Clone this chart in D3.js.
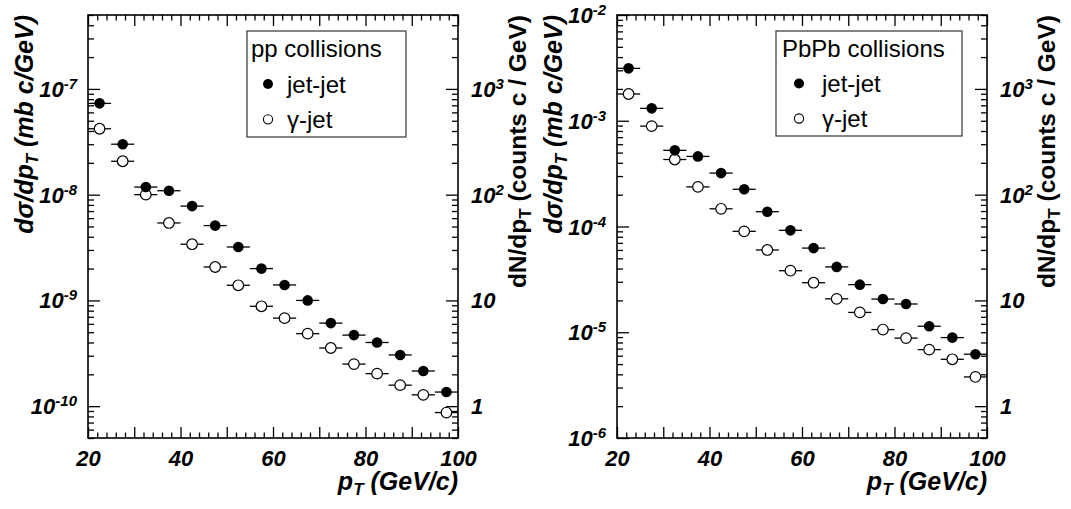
<!DOCTYPE html>
<html>
<head>
<meta charset="utf-8">
<script src="https://cdn.jsdelivr.net/npm/d3@7"></script>
<style>
  body { margin: 0; background: #fff; }
  svg { display: block; }
  text { font-family: "Liberation Sans", Arial, Helvetica, sans-serif; fill: #000; }
</style>
</head>
<body>
<svg id="chart" width="1071" height="509"></svg>
<script>
// Bin centres (GeV/c), 5 GeV/c wide bins
const pT = [22.5, 27.5, 32.5, 37.5, 42.5, 47.5, 52.5, 57.5, 62.5, 67.5, 72.5, 77.5, 82.5, 87.5, 92.5, 97.5];
const binHalfWidth = 2.5;

// pp: d(sigma)/dpT in mb c/GeV
const ppJetJet = [7.3e-8, 3.0e-8, 1.18e-8, 1.09e-8, 7.8e-9, 5.1e-9, 3.2e-9, 2.0e-9, 1.4e-9, 1.0e-9,
                  6.1e-10, 4.7e-10, 4.0e-10, 3.05e-10, 2.15e-10, 1.36e-10];
const ppGammaJet = [4.2e-8, 2.07e-8, 1.0e-8, 5.4e-9, 3.4e-9, 2.07e-9, 1.39e-9, 8.8e-10, 6.8e-10, 4.85e-10,
                    3.55e-10, 2.5e-10, 2.03e-10, 1.58e-10, 1.28e-10, 8.7e-11];

// PbPb: d(sigma)/dpT in mb c/GeV
const pbpbJetJet = [3.13e-3, 1.31e-3, 5.25e-4, 4.6e-4, 3.2e-4, 2.25e-4, 1.38e-4, 9.2e-5, 6.25e-5, 4.15e-5,
                    2.82e-5, 2.06e-5, 1.85e-5, 1.14e-5, 8.9e-6, 6.2e-6];
const pbpbGammaJet = [1.79e-3, 8.9e-4, 4.3e-4, 2.37e-4, 1.47e-4, 9.0e-5, 6.0e-5, 3.82e-5, 2.94e-5, 2.07e-5,
                      1.54e-5, 1.06e-5, 8.8e-6, 6.85e-6, 5.55e-6, 3.78e-6];

// Axis ranges and labels
const xDomain = [20, 100];
const xTickLabels = [20, 40, 60, 80, 100];
const ppSigmaDomain = [5e-11, 5e-7];
const ppSigmaDecades = [-7, -8, -9, -10];
const pbpbSigmaDomain = [1e-6, 1e-2];
const pbpbSigmaDecades = [-2, -3, -4, -5, -6];
const countsDomain = [0.5, 5000];
const countsDecades = [0, 1, 2, 3];

const seriesNames = ["jet-jet", "γ-jet"];
const legendHeaders = ["pp collisions", "PbPb collisions"];

// ---- layout ----
const svg = d3.select("#chart");
const frameTop = 15, frameBottom = 438, frameWidth = 370;
const tickFont = 22, titleFont = 25;

const panels = [
  { left: 88, sigmaDomain: ppSigmaDomain, decades: ppSigmaDecades,
    jj: ppJetJet, gj: ppGammaJet, header: legendHeaders[0],
    legend: { x0: 247, x1: 406, y0: 31, y1: 137, textDx: 4, markDx: 21, labelDx: 40 } },
  { left: 617, sigmaDomain: pbpbSigmaDomain, decades: pbpbSigmaDecades,
    jj: pbpbJetJet, gj: pbpbGammaJet, header: legendHeaders[1],
    legend: { x0: 776, x1: 962, y0: 31, y1: 136, textDx: 6, markDx: 23, labelDx: 46 } }
];

function powerLabel(sel, exp) {
  if (exp === 0) { sel.text("1"); return; }
  if (exp === 1) { sel.text("10"); return; }
  sel.append("tspan").text("10");
  sel.append("tspan").attr("dy", -8).attr("font-size", 15).text(String(exp).replace("-", "-"));
}

function isDecade(v) {
  const m = v / Math.pow(10, Math.floor(Math.log10(v) + 1e-9));
  return Math.abs(m - 1) < 1e-6;
}

function styleAxis(g) {
  g.select(".domain").remove();
  g.selectAll(".tick line").attr("stroke", "#000").attr("stroke-width", 1.3);
}

panels.forEach(p => {
  const left = p.left, right = p.left + frameWidth;
  const x = d3.scaleLinear().domain(xDomain).range([left, right]);
  const y = d3.scaleLog().domain(p.sigmaDomain).range([frameBottom, frameTop]);
  const yc = d3.scaleLog().domain(countsDomain).range([frameBottom, frameTop]);

  const g = svg.append("g");

  // x ticks: long every 10, short every 2, on bottom and top edges
  const xAll = d3.range(xDomain[0], xDomain[1] + 0.001, 2);
  const xLong = xAll.filter(v => v % 10 === 0);
  const xShort = xAll.filter(v => v % 10 !== 0);
  [[d3.axisBottom, frameBottom, 1], [d3.axisTop, frameTop, 1]].forEach(([ax, ty]) => {
    g.append("g").attr("transform", `translate(0,${ty})`)
      .call(ax(x).tickValues(xLong).tickSize(-11).tickFormat("")).call(styleAxis);
    g.append("g").attr("transform", `translate(0,${ty})`)
      .call(ax(x).tickValues(xShort).tickSize(-5.5).tickFormat("")).call(styleAxis);
  });
  // x labels
  const xl = g.append("g").attr("transform", `translate(0,${frameBottom})`)
    .call(d3.axisBottom(x).tickValues(xTickLabels).tickSize(0).tickPadding(0).tickFormat(d3.format("d")));
  xl.select(".domain").remove();
  xl.selectAll(".tick text").attr("y", 28).attr("dy", 0)
    .attr("font-size", tickFont).attr("font-weight", "bold").attr("font-style", "italic")
    .attr("font-family", '"Liberation Sans", Arial, sans-serif').attr("fill", "#000");

  // left log axis
  const yAll = y.ticks();
  g.append("g").attr("transform", `translate(${left},0)`)
    .call(d3.axisLeft(y).tickValues(yAll.filter(isDecade)).tickSize(-12).tickFormat("")).call(styleAxis);
  g.append("g").attr("transform", `translate(${left},0)`)
    .call(d3.axisLeft(y).tickValues(yAll.filter(v => !isDecade(v))).tickSize(-6).tickFormat("")).call(styleAxis);
  p.decades.forEach(e => {
    const t = g.append("text").attr("x", left - 11).attr("y", y(Math.pow(10, e)) + 8)
      .attr("text-anchor", "end").attr("font-size", tickFont)
      .attr("font-weight", "bold").attr("font-style", "italic");
    powerLabel(t, e);
  });

  // right log axis (counts)
  const cAll = yc.ticks();
  g.append("g").attr("transform", `translate(${right},0)`)
    .call(d3.axisRight(yc).tickValues(cAll.filter(isDecade)).tickSize(-12).tickFormat("")).call(styleAxis);
  g.append("g").attr("transform", `translate(${right},0)`)
    .call(d3.axisRight(yc).tickValues(cAll.filter(v => !isDecade(v))).tickSize(-6).tickFormat("")).call(styleAxis);
  countsDecades.forEach(e => {
    const t = g.append("text").attr("x", right + 13).attr("y", yc(Math.pow(10, e)) + 8)
      .attr("text-anchor", "start").attr("font-size", tickFont)
      .attr("font-weight", "bold").attr("font-style", "italic");
    powerLabel(t, e);
  });

  // frame
  g.append("rect").attr("x", left).attr("y", frameTop)
    .attr("width", frameWidth).attr("height", frameBottom - frameTop)
    .attr("fill", "none").attr("stroke", "#000").attr("stroke-width", 1.6);

  // titles
  const lt = g.append("text").attr("transform", `translate(${left - 55},${frameTop}) rotate(-90)`)
    .attr("text-anchor", "end").attr("font-size", titleFont)
    .attr("font-weight", "bold").attr("font-style", "italic");
  lt.append("tspan").text("dσ/dp");
  lt.append("tspan").attr("font-size", 17).attr("dy", 5).text("T");
  lt.append("tspan").attr("dy", -5).text(" (mb c/GeV)");

  const rt = g.append("text").attr("transform", `translate(${right + 68},${frameTop}) rotate(-90)`)
    .attr("text-anchor", "end").attr("font-size", 24.5).attr("font-weight", "bold");
  rt.append("tspan").text("dN/dp");
  rt.append("tspan").attr("font-size", 17).attr("dy", 5).text("T");
  rt.append("tspan").attr("dy", -5).text(" (counts c / GeV)");

  const xt = g.append("text").attr("x", right).attr("y", 490)
    .attr("text-anchor", "end").attr("font-size", titleFont)
    .attr("font-weight", "bold").attr("font-style", "italic");
  xt.append("tspan").text("p");
  xt.append("tspan").attr("font-size", 17).attr("dy", 5).text("T");
  xt.append("tspan").attr("dy", -5).text(" (GeV/c)");

  // data: horizontal bin-width bars, then markers
  const rows = pT.map((v, i) => ({ pt: v, jj: p.jj[i], gj: p.gj[i] }));
  ["jj", "gj"].forEach(key => {
    g.append("g").selectAll("line").data(rows).join("line")
      .attr("x1", d => x(d.pt - binHalfWidth)).attr("x2", d => x(d.pt + binHalfWidth))
      .attr("y1", d => y(d[key])).attr("y2", d => y(d[key]))
      .attr("stroke", "#000").attr("stroke-width", 1.3);
  });
  g.append("g").selectAll("circle").data(rows).join("circle")
    .attr("cx", d => x(d.pt)).attr("cy", d => y(d.gj)).attr("r", 5.3)
    .attr("fill", "#fff").attr("stroke", "#000").attr("stroke-width", 1.2);
  g.append("g").selectAll("circle").data(rows).join("circle")
    .attr("cx", d => x(d.pt)).attr("cy", d => y(d.jj)).attr("r", 5.3)
    .attr("fill", "#000");

  // legend
  const L = p.legend;
  g.append("rect").attr("x", L.x0).attr("y", L.y0).attr("width", L.x1 - L.x0).attr("height", L.y1 - L.y0)
    .attr("fill", "#fff").attr("stroke", "#444").attr("stroke-width", 1.3);
  const rowH = (L.y1 - L.y0) / 3;
  g.append("text").attr("x", L.x0 + L.textDx).attr("y", L.y0 + rowH * 0.5 + 8.5)
    .attr("font-size", 24).text(p.header);
  seriesNames.forEach((name, i) => {
    const cy = L.y0 + rowH * (i + 1.5);
    g.append("circle").attr("cx", L.x0 + L.markDx).attr("cy", cy).attr("r", i === 0 ? 5 : 4.6)
      .attr("fill", i === 0 ? "#000" : "#fff").attr("stroke", "#000").attr("stroke-width", i === 0 ? 0 : 1.1);
    g.append("text").attr("x", L.x0 + L.labelDx).attr("y", cy + 8.5).attr("font-size", 24).text(name);
  });
});
</script>
</body>
</html>
